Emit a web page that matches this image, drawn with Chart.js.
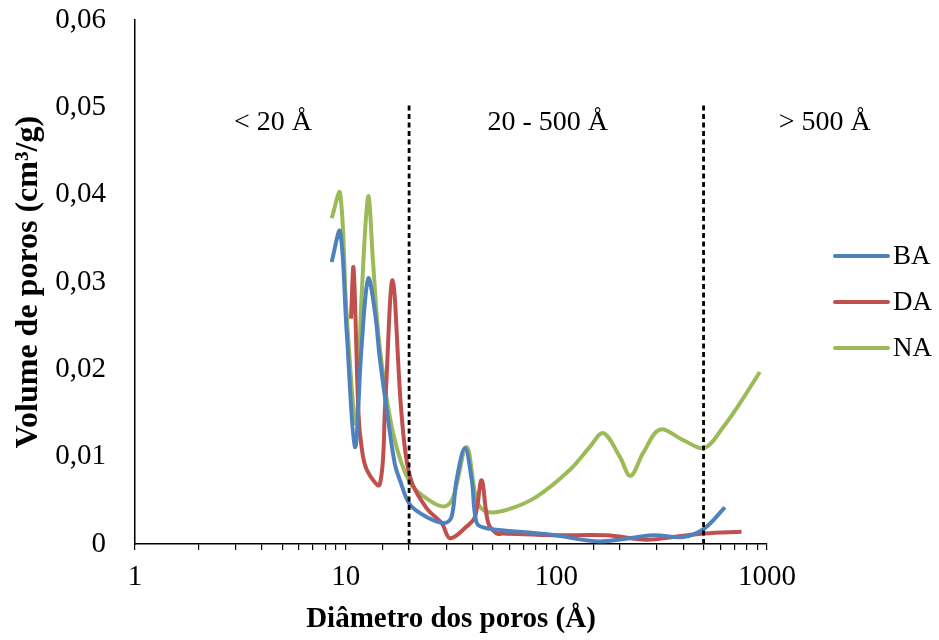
<!DOCTYPE html>
<html>
<head>
<meta charset="utf-8">
<script src="https://cdn.jsdelivr.net/npm/chart.js@4.4.1/dist/chart.umd.min.js"></script>
<style>
  html, body { margin: 0; padding: 0; background: #fff; }
  #wrap { width: 939px; height: 640px; position: relative; }
</style>
</head>
<body>
<div id="wrap"><canvas id="poros"></canvas></div>
<script>
// pore size distribution (diameter in Å, volume in cm3/g)
var baDiam = [8.58, 9.4, 10.1, 11.07, 11.9, 12.8, 13.8, 14.5, 15.6, 17.1, 18.1, 20.2, 24.2, 29.5, 31.8, 33.6, 36.8, 39.7, 41.9, 46.6, 67, 96.7, 161, 288, 400, 505, 631];
var baVol  = [0.0323, 0.0358, 0.0245, 0.0111, 0.0226, 0.0304, 0.0264, 0.0214, 0.0157, 0.0092, 0.0073, 0.0045, 0.0031, 0.0024, 0.0031, 0.0073, 0.011, 0.0073, 0.0024, 0.0018, 0.0014, 0.00103, 0.0003, 0.001, 0.0008, 0.0018, 0.0042];

var daDiam = [10.6, 10.9, 11.5, 11.9, 12.6, 14.5, 15.4, 16.7, 18.4, 20.2, 24.2, 28.6, 31.3, 37.5, 41.1, 44.2, 47.5, 52.1, 56, 97, 173, 268, 359, 505, 757];
var daVol  = [0.0258, 0.0316, 0.015, 0.0111, 0.0085, 0.0068, 0.016, 0.0302, 0.015, 0.0077, 0.0041, 0.00237, 0.00065, 0.002, 0.0031, 0.0073, 0.0024, 0.0012, 0.0012, 0.001, 0.001, 0.0005, 0.0008, 0.0012, 0.0014];

var naDiam = [8.58, 9.4, 10.1, 11.2, 11.9, 12.8, 13.5, 14.5, 16.8, 20.2, 25, 29.5, 32.4, 37.5, 41.9, 46.7, 58, 80.4, 116, 144, 167, 200, 225, 258, 310, 400, 505, 620, 743, 925];
var naVol  = [0.0373, 0.0402, 0.0264, 0.0138, 0.0283, 0.0398, 0.0321, 0.0226, 0.0127, 0.007, 0.005, 0.0043, 0.0054, 0.0111, 0.005, 0.0037, 0.0039, 0.0054, 0.0085, 0.0111, 0.0127, 0.01, 0.0078, 0.0104, 0.0131, 0.0119, 0.011, 0.0134, 0.0161, 0.0197];

var seriesNames = ['BA', 'DA', 'NA'];
var seriesColors = ['#4F81BD', '#C0504D', '#9BBB59'];

// region limits and their captions
var limits = [20, 500];
var regionLabels = ['< 20 Å', '20 - 500 Å', '> 500 Å'];
var regionLabelX = [4.52, 91, 1880];
var regionLabelY = 0.0483;

var xTicks = [1, 10, 100, 1000];
var yTicks = [0, 0.01, 0.02, 0.03, 0.04, 0.05, 0.06];

var serif = "'Times New Roman', 'Liberation Serif', serif";

function pts(xs, ys) {
  var out = [];
  for (var i = 0; i < xs.length; i++) out.push({x: xs[i], y: ys[i]});
  return out;
}

var regions = {
  id: 'regions',
  afterDatasetsDraw: function(chart) {
    var ctx = chart.ctx, xs = chart.scales.x, ys = chart.scales.y;
    ctx.save();
    ctx.strokeStyle = '#000';
    ctx.lineWidth = 2.8;
    ctx.setLineDash([5, 3.5]);
    limits.forEach(function(v) {
      var px = xs.getPixelForValue(v);
      ctx.beginPath();
      ctx.moveTo(px, ys.getPixelForValue(0));
      ctx.lineTo(px, ys.getPixelForValue(0.0504));
      ctx.stroke();
    });
    ctx.setLineDash([]);
    ctx.fillStyle = '#000';
    ctx.font = '28px ' + serif;
    ctx.textAlign = 'center';
    ctx.textBaseline = 'middle';
    regionLabels.forEach(function(t, i) {
      ctx.fillText(t, xs.getPixelForValue(regionLabelX[i]), ys.getPixelForValue(regionLabelY));
    });
    ctx.restore();
  }
};

var sideLegend = {
  id: 'sideLegend',
  afterDraw: function(chart) {
    var ctx = chart.ctx;
    ctx.save();
    ctx.font = '27px ' + serif;
    ctx.textBaseline = 'middle';
    ctx.textAlign = 'left';
    chart.data.datasets.forEach(function(ds, i) {
      var y = 256 + i * 46;
      ctx.strokeStyle = ds.borderColor;
      ctx.lineWidth = 4;
      ctx.lineCap = 'round';
      ctx.beginPath();
      ctx.moveTo(835, y);
      ctx.lineTo(888, y);
      ctx.stroke();
      ctx.fillStyle = '#000';
      ctx.fillText(ds.label, 893, y + 1);
    });
    ctx.restore();
  }
};

new Chart(document.getElementById('poros'), {
  type: 'scatter',
  data: {
    datasets: [
      {label: seriesNames[0], data: pts(baDiam, baVol), borderColor: seriesColors[0]},
      {label: seriesNames[1], data: pts(daDiam, daVol), borderColor: seriesColors[1]},
      {label: seriesNames[2], data: pts(naDiam, naVol), borderColor: seriesColors[2]}
    ]
  },
  options: {
    responsive: true,
    maintainAspectRatio: false,
    animation: false,
    layout: { padding: { top: 20, right: 172, left: 0, bottom: 0 } },
    datasets: {
      scatter: {
        showLine: true,
        fill: false,
        borderWidth: 4,
        tension: 0.35,
        pointRadius: 0,
        pointHoverRadius: 0
      }
    },
    plugins: {
      legend: { display: false },
      tooltip: { enabled: false }
    },
    scales: {
      x: {
        type: 'logarithmic',
        min: 1,
        max: 1000,
        afterFit: function(s) { s.height = 96; },
        border: { display: true, color: '#000', width: 1.5 },
        grid: { display: true, drawOnChartArea: false, drawTicks: true, tickLength: 6, color: '#000', lineWidth: 1.2 },
        ticks: {
          autoSkip: false,
          maxRotation: 0,
          padding: 10,
          color: '#000',
          font: { family: serif, size: 29 },
          callback: function(v) { return xTicks.indexOf(v) >= 0 ? String(v) : ''; }
        },
        title: {
          display: true,
          text: 'Diâmetro dos poros (Å)',
          color: '#000',
          font: { family: serif, size: 29, weight: 'bold' },
          padding: { top: 0, bottom: 3 }
        }
      },
      y: {
        min: 0,
        max: 0.06,
        afterFit: function(s) { s.width = 135; s.paddingTop = 0; s.paddingBottom = 0; },
        afterBuildTicks: function(s) { s.ticks = yTicks.map(function(v) { return {value: v}; }); },
        border: { display: true, color: '#000', width: 1.5 },
        grid: { display: true, drawOnChartArea: false, drawTicks: false },
        ticks: {
          padding: 29,
          color: '#000',
          font: { family: serif, size: 29 },
          callback: function(v) { return v === 0 ? '0' : v.toFixed(2).replace('.', ','); }
        },
        title: {
          display: true,
          text: 'Volume de poros (cm³/g)',
          color: '#000',
          font: { family: serif, size: 32, weight: 'bold' },
          padding: { top: 10, bottom: 0 }
        }
      }
    }
  },
  plugins: [regions, sideLegend]
});
</script>
</body>
</html>
